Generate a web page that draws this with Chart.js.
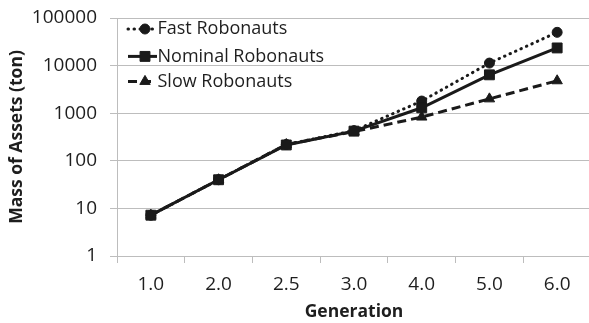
<!DOCTYPE html>
<html>
<head>
<meta charset="utf-8">
<script src="https://cdn.jsdelivr.net/npm/chart.js@4/dist/chart.umd.min.js"></script>
<style>
html,body{margin:0;padding:0;background:#fff;overflow:hidden;}
#c{position:absolute;left:0;top:0;}
</style>
</head>
<body>
<canvas id="c" width="592" height="323"></canvas>
<script>
const categories = ["1.0", "2.0", "2.5", "3.0", "4.0", "5.0", "6.0"];
const fastValues = [7.2, 40, 220, 430, 1800, 11300, 50000];
const nominalValues = [7.2, 40, 215, 420, 1300, 6400, 23500];
const slowValues = [7.2, 40, 220, 410, 830, 2000, 4800];
const yTickValues = [1, 10, 100, 1000, 10000, 100000];
const seriesNames = ["Fast Robonauts", "Nominal Robonauts", "Slow Robonauts"];

const FONT = "'Open Sans', sans-serif";
const INK = "#1a1a1a";
const TEXT = "#1e1e1e";
const GRID = "#bdbdbd";

const legendPlugin = {
  id: 'insideLegend',
  afterDraw(chart) {
    const ctx = chart.ctx;
    const a = chart.chartArea;
    const rows = [11, 38.4, 63.4];
    ctx.save();
    chart.data.datasets.forEach((ds, i) => {
      const y = a.top + rows[i];
      const dashed = (ds.borderDash || []).length > 0;
      const x0 = a.left + 11;
      const x1 = a.left + (dashed ? 36 : 40);
      const mx = a.left + 28;
      ctx.strokeStyle = ds.borderColor;
      ctx.lineWidth = ds.borderWidth;
      ctx.lineCap = ds.borderCapStyle || 'butt';
      ctx.setLineDash(ds.borderDash || []);
      ctx.beginPath();
      ctx.moveTo(x0, y);
      ctx.lineTo(x1, y);
      ctx.stroke();
      ctx.setLineDash([]);
      ctx.fillStyle = ds.pointBackgroundColor;
      ctx.strokeStyle = ds.pointBorderColor;
      ctx.lineWidth = 1;
      Chart.helpers.drawPoint(ctx, {
        pointStyle: ds.pointStyle,
        radius: ds.pointRadius,
        rotation: 0,
        borderWidth: 1
      }, mx, y);
      ctx.fillStyle = TEXT;
      ctx.font = "18px " + FONT;
      ctx.textBaseline = 'middle';
      ctx.textAlign = 'left';
      ctx.fillText(ds.label, a.left + 40.5, y);
    });
    ctx.restore();
  }
};

function series(label, data, style, radius, dash, cap, order) {
  return {
    label: label,
    data: data,
    borderColor: INK,
    backgroundColor: INK,
    pointBackgroundColor: INK,
    pointBorderColor: INK,
    pointBorderWidth: 1,
    borderWidth: 3,
    borderDash: dash,
    borderCapStyle: cap,
    pointStyle: style,
    pointRadius: radius,
    pointHoverRadius: radius,
    tension: 0,
    fill: false,
    order: order
  };
}

new Chart(document.getElementById('c'), {
  type: 'line',
  data: {
    labels: categories,
    datasets: [
      series(seriesNames[0], fastValues, 'circle', 5, [0.5, 5.5], 'round', 1),
      series(seriesNames[1], nominalValues, 'rect', 7, [], 'butt', 0),
      series(seriesNames[2], slowValues, 'triangle', 6, [9, 5], 'butt', 2)
    ]
  },
  options: {
    responsive: false,
    maintainAspectRatio: false,
    animation: false,
    devicePixelRatio: 1,
    layout: { autoPadding: false, padding: { left: 0, right: 1, top: 18, bottom: 0 } },
    plugins: {
      legend: { display: false },
      tooltip: { enabled: false }
    },
    scales: {
      x: {
        type: 'category',
        offset: true,
        grid: {
          offset: true,
          drawOnChartArea: false,
          drawTicks: true,
          tickLength: 7,
          color: GRID,
          lineWidth: 1
        },
        border: { display: true, color: GRID, width: 1 },
        ticks: {
          color: TEXT,
          font: { family: FONT, size: 19 },
          padding: 10,
          maxRotation: 0
        },
        title: {
          display: true,
          text: 'Generation',
          color: TEXT,
          font: { family: FONT, size: 17.5, weight: 'bold' },
          padding: { top: 0, bottom: 0 }
        },
        afterFit(scale) { scale.height = 67; scale.paddingLeft = 0; scale.paddingRight = 0; }
      },
      y: {
        type: 'logarithmic',
        min: 1,
        max: 100000,
        afterBuildTicks(scale) {
          scale.ticks = yTickValues.map(v => ({ value: v }));
        },
        grid: {
          color: GRID,
          lineWidth: 1,
          drawTicks: true,
          tickLength: 7
        },
        border: { display: true, color: GRID, width: 1 },
        ticks: {
          color: TEXT,
          font: { family: FONT, size: 19 },
          padding: 13,
          callback: (v) => String(v)
        },
        title: {
          display: true,
          text: 'Mass of Assets (ton)',
          color: TEXT,
          font: { family: FONT, size: 17.5, weight: 'bold' },
          padding: { top: 7, bottom: 0 }
        },
        afterFit(scale) { scale.width = 117; scale.paddingTop = 0; scale.paddingBottom = 0; }
      }
    }
  },
  plugins: [legendPlugin]
});
</script>
</body>
</html>
